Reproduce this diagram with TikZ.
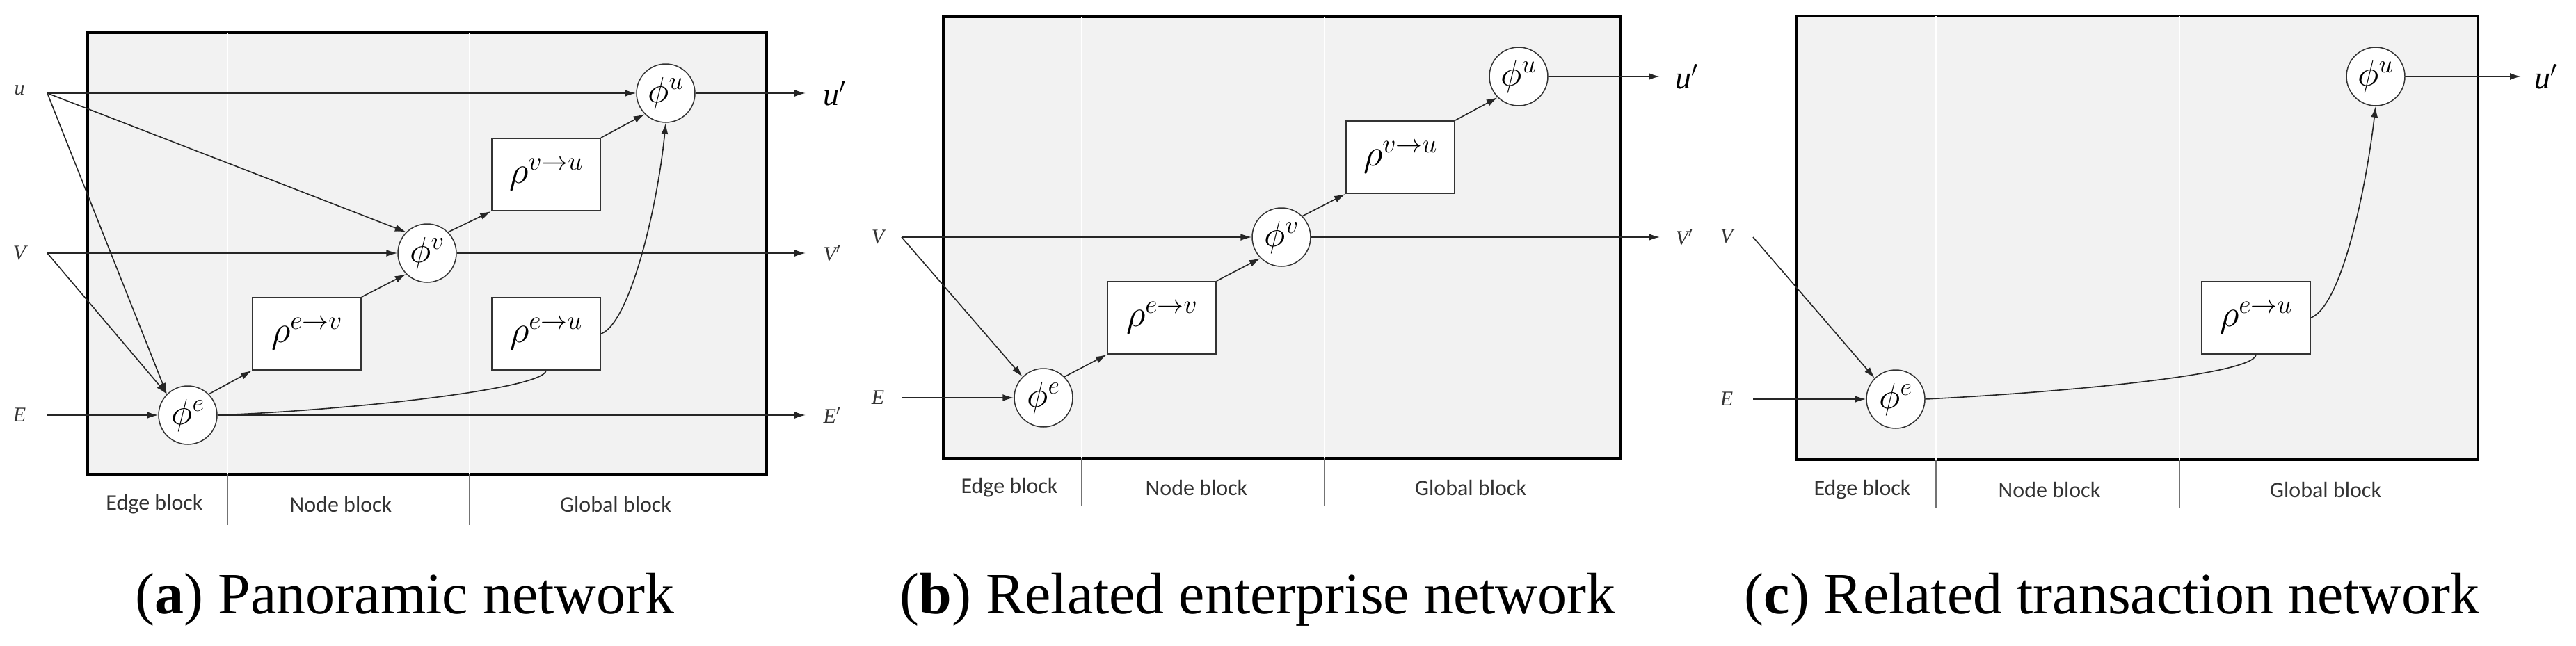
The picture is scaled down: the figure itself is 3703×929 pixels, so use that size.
\RequirePackage{fix-cm}
\documentclass[tikz,border=0pt]{standalone}
\usepackage{fontspec}
\setmainfont{Liberation Serif}
\newfontfamily\blk{Carlito}
\usetikzlibrary{arrows.meta}
\begin{document}
\begin{tikzpicture}[x=1pt,y=-1pt,
  frame/.style={draw=black,line width=4pt,fill=black!5},
  div/.style={draw=white,line width=2.5pt},
  divb/.style={draw=black!55,line width=2.5pt},
  blab/.style={font=\blk\fontsize{32}{36}\selectfont,text=black!80},
  phi/.style={circle,draw=black!80,line width=1.5pt,fill=white,minimum size=84pt,inner sep=0pt,font=\fontsize{52}{56}\selectfont},
  rho/.style={rectangle,draw=black!80,line width=2pt,fill=white,minimum width=156pt,minimum height=104pt,inner sep=0pt,font=\fontsize{54}{58}\selectfont},
  arr/.style={-{Latex[length=16pt,width=10pt]},line width=1.6pt,draw=black!85},
  ln/.style={line width=1.6pt,draw=black!85},
  inl/.style={font=\itshape\fontsize{30}{34}\selectfont,text=black!80},
  outl/.style={font=\itshape\fontsize{46}{50}\selectfont},
  captxt/.style={font=\fontsize{84}{90}\selectfont}]
\useasboundingbox (0,0) rectangle (3703,929);
% ================= panel a =================
\path[frame] (126,47) rectangle (1102,682);
\draw[div] (327,47) -- (327,682); \draw[div] (675,47) -- (675,682);
\draw[divb] (327,682) -- (327,755); \draw[divb] (675,682) -- (675,755);
\node[blab] (aeb) at (222,725) {Edge block};
\node[blab] (anb) at (490,725) {Node block};
\node[blab] (agb) at (885,725) {Global block};
\node[inl] (au) at (28,130) {u};
\node[inl] (aV) at (28,364) {V};
\node[inl] (aE) at (28,597) {E};
\coordinate (aus) at (68,134);
\coordinate (aVs) at (68,364);
\coordinate (aEs) at (68,597);
\node[phi] (aphiu) at (957,134) {$\phi^{u}$};
\node[phi] (aphiv) at (614,364) {$\phi^{v}$};
\node[phi] (aphie) at (270,597) {$\phi^{e}$};
\node[rho] (arvu) at (785,251) {$\rho^{v\rightarrow u}$};
\node[rho] (arev) at (441,480) {$\rho^{e\rightarrow v}$};
\node[rho] (areu) at (785,480) {$\rho^{e\rightarrow u}$};
\coordinate (auo) at (1158,134); \coordinate (aVo) at (1158,364); \coordinate (aEo) at (1158,597);
\node[outl,anchor=west] (aup) at (1180,134) {u$'$};
\node[inl,anchor=west] (aVp) at (1180,364) {V$'$};
\node[inl,anchor=west] (aEp) at (1180,597) {E$'$};
\draw[arr] (aus) -- (aphiu.west);
\draw[arr] (aus) -- (aphiv.north west);
\draw[arr] (aus) -- (aphie.north west);
\draw[arr] (aVs) -- (aphiv.west);
\draw[arr] (aVs) -- (aphie.north west);
\draw[arr] (aEs) -- (aphie.west);
\draw[arr] (aphie.east) -- (aEo);
\draw[arr] (aphiv.east) -- (aVo);
\draw[arr] (aphiu.east) -- (auo);
\draw[arr] (aphie.north east) -- (arev.south west);
\draw[arr] (arev.north east) -- (aphiv.south west);
\draw[arr] (aphiv.north east) -- (arvu.south west);
\draw[arr] (arvu.north east) -- (aphiu.south west);
\draw[ln] (aphie.east) .. controls (500,590) and (780,560) .. (areu.south);
\draw[arr] (areu.east) .. controls (905,465) and (945,300) .. (aphiu.south);
\node[captxt] (capa) at (582,862) {(\textbf{a}) Panoramic network};
% ================= panel b =================
\path[frame] (1356,24) rectangle (2329,659);
\draw[div] (1555,24) -- (1555,659); \draw[div] (1904,24) -- (1904,659);
\draw[divb] (1555,659) -- (1555,728); \draw[divb] (1904,659) -- (1904,728);
\node[blab] (beb) at (1451,701) {Edge block};
\node[blab] (bnb) at (1720,701) {Node block};
\node[blab] (bgb) at (2114,701) {Global block};
\node[inl] (bV) at (1262,341) {V};
\node[inl] (bE) at (1262,572) {E};
\coordinate (bVs) at (1296,341);
\coordinate (bEs) at (1296,572);
\node[phi] (bphiu) at (2183,110) {$\phi^{u}$};
\node[phi] (bphiv) at (1842,341) {$\phi^{v}$};
\node[phi] (bphie) at (1500,572) {$\phi^{e}$};
\node[rho] (brvu) at (2013,226) {$\rho^{v\rightarrow u}$};
\node[rho] (brev) at (1670,457) {$\rho^{e\rightarrow v}$};
\coordinate (buo) at (2386,110); \coordinate (bVo) at (2386,341);
\node[outl,anchor=west] (bup) at (2405,110) {u$'$};
\node[inl,anchor=west] (bVp) at (2405,341) {V$'$};
\draw[arr] (bVs) -- (bphiv.west);
\draw[arr] (bVs) -- (bphie.north west);
\draw[arr] (bEs) -- (bphie.west);
\draw[arr] (bphiv.east) -- (bVo);
\draw[arr] (bphiu.east) -- (buo);
\draw[arr] (bphie.north east) -- (brev.south west);
\draw[arr] (brev.north east) -- (bphiv.south west);
\draw[arr] (bphiv.north east) -- (brvu.south west);
\draw[arr] (brvu.north east) -- (bphiu.south west);
\node[captxt] (capb) at (1808,862) {(\textbf{b}) Related enterprise network};
% ================= panel c =================
\path[frame] (2582,23) rectangle (3562,661);
\draw[div] (2783,23) -- (2783,661); \draw[div] (3133,23) -- (3133,661);
\draw[divb] (2783,661) -- (2783,731); \draw[divb] (3133,661) -- (3133,731);
\node[blab] (ceb) at (2677,704) {Edge block};
\node[blab] (cnb) at (2946,704) {Node block};
\node[blab] (cgb) at (3343,704) {Global block};
\node[inl] (cV) at (2482,340) {V};
\node[inl] (cE) at (2482,574) {E};
\coordinate (cVs) at (2520,341);
\coordinate (cEs) at (2520,574);
\node[phi] (cphiu) at (3415,110) {$\phi^{u}$};
\node[phi] (cphie) at (2725,574) {$\phi^{e}$};
\node[rho] (creu) at (3243,457) {$\rho^{e\rightarrow u}$};
\coordinate (cuo) at (3624,110);
\node[outl,anchor=west] (cup) at (3640,110) {u$'$};
\draw[arr] (cVs) -- (cphie.north west);
\draw[arr] (cEs) -- (cphie.west);
\draw[arr] (cphiu.east) -- (cuo);
\draw[ln] (cphie.east) .. controls (2950,565) and (3240,540) .. (creu.south);
\draw[arr] (creu.east) .. controls (3365,440) and (3400,280) .. (cphiu.south);
\node[captxt] (capc) at (3036,862) {(\textbf{c}) Related transaction network};
\end{tikzpicture}
\end{document}
